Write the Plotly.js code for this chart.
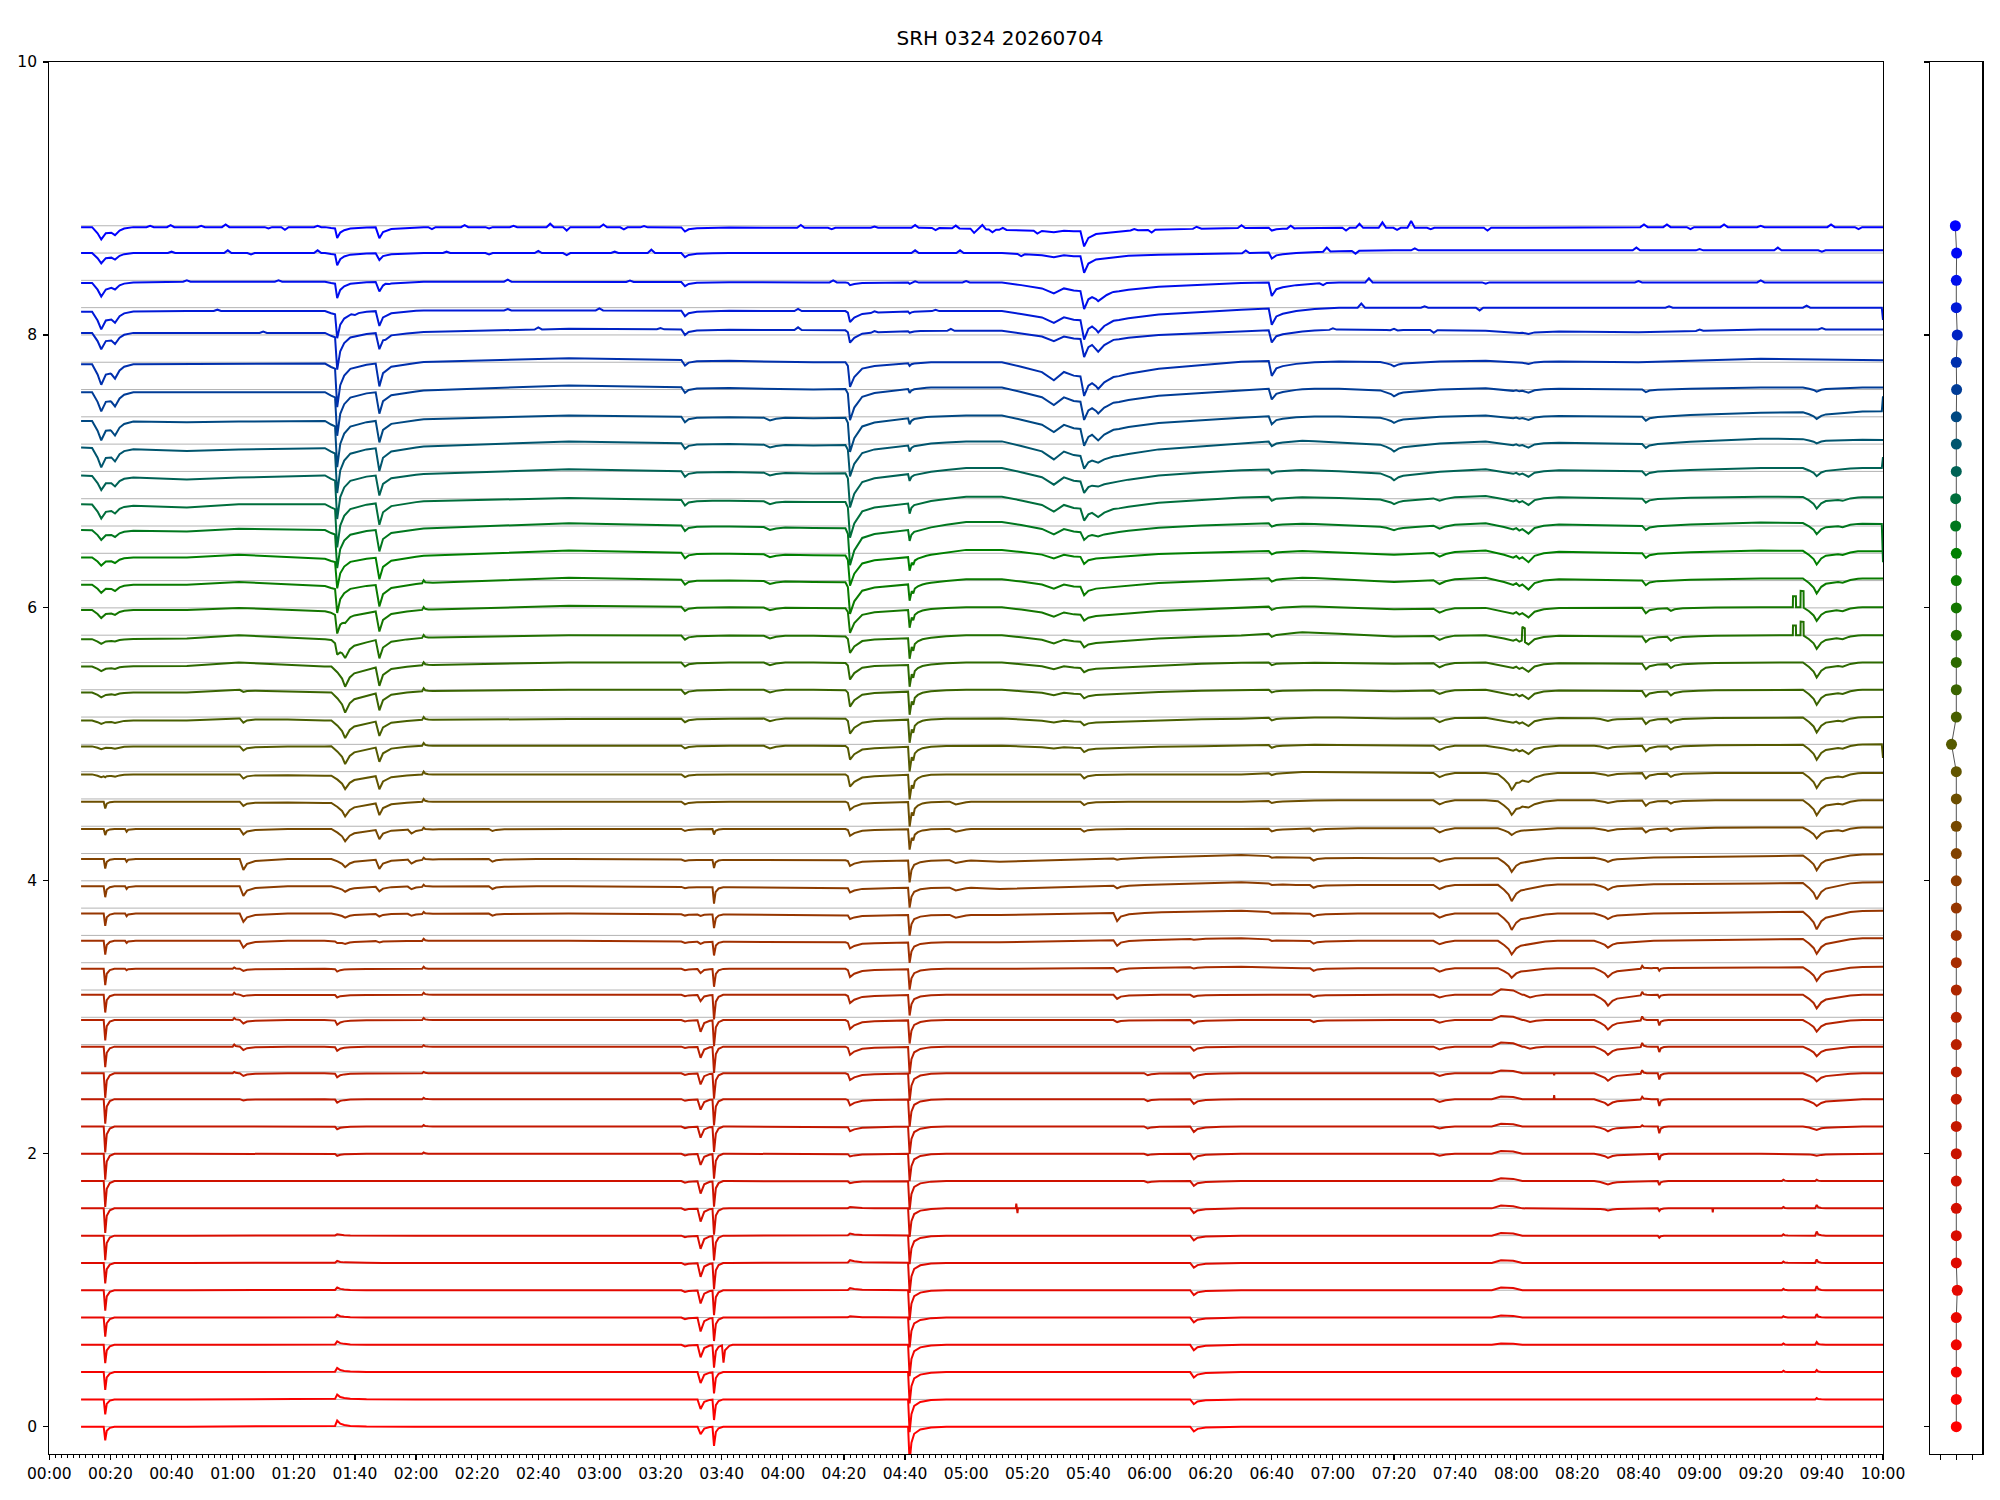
<!DOCTYPE html>
<html><head><meta charset="utf-8">
<script src="https://cdn.plot.ly/plotly-3.0.1.min.js"></script>
<style>html,body{margin:0;padding:0;background:#fff}</style>
</head><body>
<div id="chart" style="width:2000px;height:1500px"></div>
<script>
// ---------------- DATA ----------------
const LEVELS = [0.0,0.2,0.4,0.6,0.8,1.0,1.2,1.4,1.6,1.8,2.0,2.2,2.4,2.6,2.8,3.0,3.2,3.4,3.6,3.8,4.0,4.2,4.4,4.6,4.8,5.0,5.2,5.4,5.6,5.8,6.0,6.2,6.4,6.6,6.8,7.0,7.2,7.4,7.6,7.8,8.0,8.2,8.4,8.6,8.8];
const T_START = 10.4, T_END = 600;   // minutes after 00:00
const TICK_MINUTES = [0,20,40,60,80,100,120,140,160,180,200,220,240,260,280,300,320,340,360,380,400,420,440,460,480,500,520,540,560,580,600];
const TICK_LABELS = ['00:00','00:20','00:40','01:00','01:20','01:40','02:00','02:20','02:40','03:00','03:20','03:40','04:00','04:20','04:40','05:00','05:20','05:40','06:00','06:20','06:40','07:00','07:20','07:40','08:00','08:20','08:40','09:00','09:20','09:40','10:00'];
const Y_TICKS = [0,2,4,6,8,10];

// slow baseline drift of each trace (hundredths of a unit) at these times
const DRIFT_T = [10,45,62,90,120,170,250,285,300,311,390,410,440,470,520,560,600];
const DRIFT = [
 [0,0,0,0,0,0,0,0,0,0,0,0,0,0,0,0,0],
 [0,0,0,0,0,0,0,0,0,0,0,0,0,0,0,0,0],
 [0,0,0,0,0,0,0,0,0,0,0,0,0,0,0,0,0],
 [0,0,0,0,0,0,0,0,0,0,0,0,0,0,0,0,0],
 [0,0,0,0,0,0,0,0,0,0,0,0,0,0,0,0,0],
 [0,0,0,0,0,0,0,0,0,0,0,0,0,0,0,0,0],
 [0,0,0,0,0,0,0,0,0,0,0,0,0,0,0,0,0],
 [0,0,0,0,0,0,0,0,0,0,0,0,0,0,0,0,0],
 [0,0,0,0,0,0,0,0,0,0,0,0,0,0,0,0,0],
 [0,0,0,0,0,0,0,0,0,0,0,0,0,0,0,0,0],
 [0,0,0,0,0,0,0,0,0,0,0,0,0,0,0,0,0],
 [0,0,0,0,0,0,0,0,0,0,0,0,0,0,0,0,0],
 [0,0,0,0,0,0,0,0,0,0,0,0,0,0,0,0,0],
 [-1,-1,-1,-1,-1,-1,-1,-1,-1,-1,-1,-1,-1,-1,-1,-1,-1],
 [-1.5,-1.5,-1.5,-1.5,-1.5,-1.5,-1.5,-1.5,-1.5,-1.5,-1.5,-1.5,-1.5,-1.5,-1.5,-1.5,-1.5],
 [-2,-2,-2,-2,-2,-2,-2,-2,-2,-2,-2,-2,-2,-2,-2,-2,-2],
 [-3.5,-3.5,-3.5,-3.5,-3.5,-3.5,-3.5,-3.5,-3.5,-3.5,-3.5,-3.5,-3.5,-3.5,-3.5,-3.5,-3.5],
 [-4.5,-4.5,-4.5,-4.5,-4.5,-4.5,-4.5,-4.5,-4.5,-4.5,-3,-4,-4,-4,-4,-3.5,-3],
 [-4,-4,-4,-4,-4,-4,-5,-5,-5,-5,-2,-4,-4,-4,-4,-3,-2],
 [-4,-4,-4,-4,-4,-4,-5,-5,-5,-5,-2,-4,-4,-4,-4,-3,-2],
 [-4,-4,-4,-4,-4,-4,-5,-5,-5,-6,-1,-3,-3,-3,-2.5,-2,-1],
 [-4,-4,-4,-4,-4,-4,-5,-5,-5,-6,-1,-3,-3.5,-3.5,-3,-2,-0.5],
 [-2,-2,-2,-2,-2,-2,-2,-2,-2,-2,-2,-1.5,-1.5,-1.5,-1.5,-1,-1],
 [-2,-2,-2,-3,-2,-2,-2,-2,-2,-2,-2,-1,-1,-1,-1,-1,-1],
 [-2,-2,-2,-3,-2,-2,-2,-2,-2,-2,-2,0,-1,-1,-1,-1,-1],
 [-1.5,-1.5,-1.5,-1.5,-1,-1,-1,-1.5,-1,-1,-1,0,-1,-1,-1,-0.5,0],
 [-2.5,-2.5,-1,-2.5,-2,-1.5,-1,-1.5,-1,-1,-1,0,-1,-0.5,-1,-0.5,0],
 [-2,-2,0,-2,-1,0,0,-1,0,0,0,0,-1,0,-1,0,0],
 [-3,-2.5,0,-3,-2,0,0,-1.5,0,0,0,0,-1,0,-1,0,0],
 [-3,-2.5,0,-3,-2,0,-0.5,-2,0,0,0,2.5,-1,0,-1,0,0],
 [-1.5,-1.5,0,-2.5,-1.5,1.5,0,-1,0.5,0.5,0.5,1.5,-1,0,0,0.5,0.5],
 [-3,-3,-1,-4,-2,2,-1,-2,1,1,1,2.5,-1,2,0,1.5,1.5],
 [-3,-3,-1,-4,-2,2,-1.5,-2,2.5,2.5,1.5,2,-1,2,0,2,1.5],
 [-3,-4,-2,-3,-2,2,-1.5,-2,3,3,2,2,-1,2,0,2.5,1.5],
 [-4,-6.5,-4,-4,-2,0.5,-2.5,-2.5,1.5,1.5,1.5,1.5,-1,2,0,1.5,1],
 [-3,-6,-4.5,-3,-2,1.5,-1.5,-1,2.5,2.5,1.5,1.5,-2,1.5,0,2.5,2.5],
 [-2.5,-5,-4,-3,-2,2,-1,0,2,2,1,3,-1,2,0,4,3],
 [-3,-4,-3.5,-3,-2,1,-1,0,1,1,0,1,-1,1,0,3,4],
 [-2,-2,-2,-2,-1,3,0,1.5,1.5,1.5,0,1.5,-1,1,0,1.5,1.5],
 [-1.5,-1.5,-1,-1,0,3,0,0,0,0,1,1,0,1,0,2.5,1.5],
 [1.5,1.5,1.5,1.5,2,4.5,3.5,3,3,3,3,4,4,3,2,4,4],
 [-3,-2.5,-2.5,-2.5,-2,-2,-2.5,-2.5,-2.5,-2.5,-1,0,0,0,0,0,0],
 [-2,-1,-1,-1,-1,-1,-1.5,-1.5,-1.5,-1.5,-1.5,-1.5,-1.5,-1.5,-1.5,-1.5,-1.5],
 [0,0,0,0,0,0,0,0,0,0,0,1,2,2,2,2,2],
 [-1,-1,-1,-1,-1,-1,-1.5,-1.5,-2,-3,-1.5,-1.5,-1.5,-1.5,-1,-1,-1]
];

// dips (positive = downward) in hundredths: [minute, shape, first level index, depths for consecutive levels]
const EVENTS = [
 [17,'broad',24,[2,2,2.5,3.5,3.5,3.5,6,6,6,7,10,10,14,14,14,15,12,13,10,7.5,9]],
 [21.5,'broad',24,[1.5,1.5,1.5,1.5,1.5,1.5,3,4,3.5,4,5,6,8,9,9,9,7,7,4,4,5]],
 [18.3,'spike',0,[10,11,13,13.5,14,15,15,18,18,19,19,19,18,18,15,15,13,12,10,9,8,7,4.5,5,1]],
 [25.3,'spike',17,[1,1.5,2,2,2,2]],
 [60.5,'spike',13,[-1,-1.5,-1.5,-1.5,-1]],
 [63.5,'sharp',12,[1,2,2.5,2.5,1,1.5,5,6,7,8,4,3,3,3,3,1.5]],
 [94.2,'deep',0,[-4.5,-3.5,-3,-2.5,-2,-2,-1.5,-1,0,0,1.5,2,2.5,3,3,3.5,2,2,1,0,0,0,0,0,0,0,0,0,0,8,15,20,22,28,32,32,33,34,32,32,27,20,12,9,8]],
 [96.8,'vdip',18,[2,3,4,6,9,10,10,13,13,15,15,12,5]],
 [108,'sharp',18,[1,2,3.5,7,7,9,10,11,11,13,14,14,15,16,16,16,16,15,17,16,16,17,12,11,7,5,8]],
 [118.5,'sharp',19,[1.5,2,3,3]],
 [122.5,'spike',10,[-1,-1,-1,-1,-1,-1.5,-1.5,-1.5,-1.5,-1.5,-1.5,-1.5,-1.5,-2,-2,-2,-2,-2,-2,-2,-2,-2]],
 [145,'sharp',19,[1.5,2,2,1.5]],
 [208,'sharp',3,[1.2,1.2,1.2,1.2,1.2,1.2,1.2,1.2,1.2,1.2,1.2,1,1,1,1,1,1,1,1,1.5,2,2,2,2.5,3,3,3,3,3.5,4,4,4,4,4,4,4,4,4,4,3,3,3]],
 [213.1,'vnarrow',0,[5.5,7,8,9,10,9.5,10,9.5,9.5,9,8,8,7.5,8,8,8.5,4.5,3,1.5,1]],
 [217.5,'spike',0,[14,15,15.5,16.5,17,18,19,18,19,18.5,18,18.5,19,18.5,19,19,18,13,10,10,12,6,4]],
 [220.6,'spike',3,[13]],
 [235.8,'vsmall',25,[2,2,2,2,2,2,2,2,2,2,2,2,2]],
 [262,'deep2',3,[-0.5,-1,-1.5,-2,-1.5,-1,1.5,2,3.5,4.5,5,6,6.5,6,6,4.5,3,3.5,4,5,6,9,10,11,12,12,12,18,23,22,27,26,25,23,25,23,18,9,8,2]],
 [281.5,'spike3',0,[26,24,23,23,22,22,22,21,21,21,20,20,20,20,20,17,15,15,15,15,14.5,16,15,18,18,18,17,17,16,15,13,12,10,8,7.5,5,4.5,4.5,3,2,1,1.5,1]],
 [282.7,'spike',22,[4,5,5,5,5,5,5,5,4,3.5,3]],
 [296.6,'vsmall',19,[2,2,2,2,2]],
 [316.4,'tick',8,[-3.5]],
 [316.8,'tick',8,[3.5]],
 [328.7,'vee',25,[2,3,4,5,6,7,7,6,9,11,12,13,12,12.5,13.5,7.5,9,8,3,2]],
 [338.6,'sharp',22,[2,2.5,3,3,2.5,3,3,4,4,6,5,5.5,8.5,8,9,12,13,14,13,14,13,12,11]],
 [343.2,'vsmall',33,[2,4.5,2,3,6,6,6.5,7,6.5,5]],
 [349.4,'sharp',15,[1.5,3,3,4,6,2,1]],
 [359.4,'sharp',9,[1,1,1.5,1.5,1.5]],
 [374.5,'sharp',0,[3.5,3.5,4,4,3.5,3.5,3.5,3.5,3.5,3.5,4,4,3.5,3.5,3,2.5,1.5,1,0.5]],
 [400,'sharp2',18,[1,1,1,1,2,1.5,1.5,2,2,2,2,2.5,2.5,2.5,2.5,2.5,3,3,3.5,6,8,11,9,12,10,4.5,2]],
 [413.7,'sharp',15,[1.5,1.5,2,2,2,2,2,2]],
 [440,'vdip',33,[2,3,4.5,4.5,3.5,4,3,1]],
 [454.9,'vsmall',10,[1.5,1.5,2,2,2,2,2,2.5,2.5,3,3,2.5,3,3,3,3,3,2.5,3,3,3,3,3,2.5,2]],
 [477,'bump',3,[-1,-1.5,-2,-2,-2,-2,-2,-2,-2,-2,-2,-3,-3,-4]],
 [478.5,'vdip',17,[7,10,12,12,10,5,9,10]],
 [484,'jag',23,[3,4,6,6,6.5,6.5,6.5,7,8,8,7,6,5,4,3,3,2,2]],
 [484.5,'vsmall',14,[1.5,1.5,2]],
 [481.8,'pulse',29,[-10]],
 [492.4,'tick',12,[-3,1.5]],
 [510,'vdip',8,[1.5,2.5,3,3.5,4.5,5.5,6,7,8,6.5,5,4,4,3,2,2,2,2,2]],
 [521.2,'spike',11,[-1,-2,-2.5,-3,-3,-2.5,-2]],
 [522.4,'sharp',22,[3,4,4,4,4,4,4,4,4,3.5,3.5,3,3,3,3,3,2]],
 [526.8,'spike',7,[1.5,2,3,4.5,5,5,4.5,4,4,2,2]],
 [530.6,'sharp',22,[2,2,2.5,2.5,3,3,3,3,2]],
 [544.3,'tick',8,[3]],
 [567.4,'spike',2,[-1,-1,-1,-1,-1,-1,-1,-1]],
 [570.5,'pulse',29,[-7,-8]],
 [573.0,'pulse',29,[-10,-12]],
 [578.3,'vdip',10,[1.5,2.5,5,6,7,8.5,10,10,11,13,12,11,8,11,11,11,11,11,11,10,10,11,10,8,8.5,6,3,5,3]],
 [578.3,'spike',0,[-0.5,-1,-1.5,-2,-2.5,-3,-2.5,-3,-2.5,-1]],
 [586.8,'vsmall',22,[1.5,1.5,1.5,1.5,1.5,1.5,1.5,1.5,1.5,1.5,1.5,1.5,1.5]]
];
// small wiggles of the noisy top traces: [level index, minute, height in hundredths (positive = up)]
const WIGGLES = [
 [44,33,1],[44,39.7,1.5],[44,49.7,1],[44,57.7,2],[44,71.7,-1],[44,77.1,-2],[44,87.8,1],[44,125.2,-1.5],[44,135.9,1.5],[44,143.9,-1],[44,151.9,1],[44,163.9,2.5],[44,169.3,-2.5],[44,181.3,2],[44,188,-1.5],[44,194.6,1],
 [44,245.9,2],[44,256,-1],[44,270,1],[44,283.3,2],[44,290,-1.5],[44,296.6,2],[44,302.6,-3],[44,305.3,3],[44,308.6,-2],[44,312,1.5],[44,323.3,-2],[44,355,1],[44,360.7,-2],[44,375.4,1.5],[44,390.1,2],[44,406.2,2],
 [44,424.3,-2],[44,428.7,3],[44,436.2,4],[44,441,-1.5],[44,445.6,5],[44,452,-1],[44,470.6,-2],[44,521.8,2],[44,529.3,2],[44,537,-1.5],[44,548,2],[44,560,1],[44,583,2],[44,592,-1.5],
 [43,40,1],[43,58.4,2],[43,66,-1],[43,87.8,2],[43,130,1],[43,143.9,-1],[43,160,1.5],[43,169.3,-1.5],[43,185,1],[43,197,2.5],[43,283.3,2],[43,298,2],[43,318,-1.5],[43,391.5,2],[43,418,3],[43,427.4,-2],[43,446.8,1.5],[43,519.3,2],[43,540,1],[43,565.6,2],[43,580,-1],
 [42,45,1],[42,75,1],[42,110,1],[42,150,1.5],[42,190,1],[42,256.5,1.5],[42,283.3,1],[42,300,1],[42,416.8,-1.5],[42,431.8,3],[42,470,-1],[42,520,1],[42,560,1.5],
 [41,55,1],[41,100,-1],[41,150,1],[41,180,1.5],[41,245,1.5],[41,270,1],[41,290,1],[41,429.3,3],[41,450,1],[41,468,-2],[41,530,1],[41,575,1.5],
 [40,70,1],[40,110,-1],[40,160,1.5],[40,200,1],[40,245,2],[40,270,1],[40,295,1.5],[40,420,1],[40,440,1.5],[40,453,-2],[40,540,1],[40,580,1]
];
// jump of the very last sample (hundredths, positive = up)
const END_JUMP = [0,0,0,0,0,0,0,0,0,0,0,0,0,0,0,0,0,0,0,0,0,0,0,0,0,-10,0,0,0,0,0,0,0,-28,0,8,0,11,0,0,0,-9,0,0,0];
// right panel: horizontal position of each dot
const DOT_X = [0,0,0,0,0,0.06,0,0,0,0,0,0,0,0,0,0,0,0,0,0,0,0,0,0,0,-0.3,0,0,0,0,0,0,0,-0.04,-0.04,0,0,0,0.02,0,0.06,0,0,0.02,-0.06];

// ---------------- STYLE ----------------
const SHAPES = {
 broad:[[-3,0],[-1.2,0.5],[0,1],[1.5,0.5],[3,0.2],[6,0]],
 spike:[[-0.5,0],[0,1],[0.5,0.3],[1.5,0.08],[3,0]],
 vnarrow:[[-1,0],[0,1],[1.2,0.25],[3,0.05],[5,0]],
 sharp:[[-1.2,0],[0,1],[1.2,0.45],[3.9,0.18],[9,0.07],[14.5,0]],
 sharp2:[[-1,0],[0,1],[1.5,0.5],[3.6,0.35],[8,0.2],[14,0.08],[22,0]],
 deep:[[-4,0],[-2,0.08],[-0.7,0.12],[0,1],[1,0.5],[2.3,0.28],[4.3,0.13],[9.6,0.04],[15,0]],
 vdip:[[-4.5,0],[-2.5,0.3],[-1,0.6],[0,1],[1.5,0.55],[3,0.35],[7,0.2],[11,0.05],[15,0]],
 deep2:[[-1.5,0],[-0.7,0.15],[0,1],[1.4,0.6],[4,0.26],[8,0.15],[14.6,0.08],[19,0.04],[25,0]],
 spike3:[[-0.5,0],[0,1],[0.6,0.45],[1.5,0.2],[3.5,0.08],[7,0.02],[12,0]],
 vee:[[-17,0],[-10.7,0.25],[-3.9,0.55],[0,1],[3.3,0.55],[6.5,0.75],[11.3,0.85],[17.3,0.8],[21.3,0.75],[34.3,0.4],[48.3,0.2],[61.3,0.05],[71.3,0]],
 vsmall:[[-2,0],[0,1],[2,0.4],[5,0]],
 jag:[[-14,0],[-8,0.35],[-5,0.6],[-4,0.45],[-3,0.7],[-2,0.55],[0,1],[2,0.4],[5,0.15],[10,0]],
 bump:[[-5,0],[-2,1],[2,0.8],[5,0]],
 tick:[[-0.15,0],[0,1],[0.15,0]],
 pulse:[[0,0],[0.05,1],[1.0,1],[1.05,0]],
 wig:[[-1.2,0],[0,1],[1.2,0]],
 end:[[-0.4,0],[0,1]]
};
const COLOR_STOPS = [
 [0.0,[255,0,0]],[1.0,[228,8,0]],[2.0,[200,20,0]],[3.0,[180,35,0]],[3.6,[160,48,0]],
 [4.0,[140,60,0]],[4.4,[118,72,0]],[4.8,[98,85,0]],[5.2,[72,95,0]],[5.6,[45,105,0]],
 [6.0,[20,118,0]],[6.4,[0,128,0]],[6.8,[0,110,60]],[7.2,[0,85,110]],[7.6,[0,60,150]],
 [8.0,[0,35,195]],[8.4,[0,15,235]],[8.8,[0,0,255]]
];

function tplAt(tpl, dt){
  if (dt < tpl[0][0] || dt > tpl[tpl.length-1][0]) return 0;
  for (let i=1;i<tpl.length;i++){
    if (dt <= tpl[i][0]){
      const [x0,y0]=tpl[i-1],[x1,y1]=tpl[i];
      return x1===x0 ? y1 : y0+(y1-y0)*(dt-x0)/(x1-x0);
    }
  }
  return 0;
}
function driftAt(k, t){
  const T=DRIFT_T, V=DRIFT[k];
  if (t<=T[0]) return V[0];
  for (let i=1;i<T.length;i++){
    if (t<=T[i]) return V[i-1]+(V[i]-V[i-1])*(t-T[i-1])/(T[i]-T[i-1]);
  }
  return V[V.length-1];
}
function colorFor(level){
  const s=COLOR_STOPS;
  for (let i=1;i<s.length;i++){
    if (level<=s[i][0]+1e-9){
      const f=(level-s[i-1][0])/(s[i][0]-s[i-1][0]);
      const c=s[i-1][1].map((v,j)=>Math.round(v+(s[i][1][j]-v)*f));
      return 'rgb('+c.join(',')+')';
    }
  }
  return 'rgb(0,0,255)';
}
function buildTrace(k){
  const pts=new Set();
  const add=t=>{ if(t>=T_START-1e-9 && t<=T_END+1e-9) pts.add(Math.round(Math.min(Math.max(t,T_START),T_END)*10000)/10000); };
  add(T_START); add(T_END); DRIFT_T.forEach(add);
  const evs=[];
  EVENTS.forEach(([t0,shape,k0,d])=>{
    const i=k-k0;
    if(i>=0 && i<d.length && d[i]!==0){ evs.push([t0,SHAPES[shape],d[i]]); SHAPES[shape].forEach(([o])=>add(t0+o)); }
  });
  WIGGLES.forEach(([kk,t0,h])=>{
    if(kk===k){ evs.push([t0,SHAPES.wig,-h]); SHAPES.wig.forEach(([o])=>add(t0+o)); }
  });
  if(END_JUMP[k]!==0){ evs.push([T_END,SHAPES.end,-END_JUMP[k]]); SHAPES.end.forEach(([o])=>add(T_END+o)); }
  const xs=Array.from(pts).sort((a,b)=>a-b);
  const ys=xs.map(t=>{
    let v=driftAt(k,t);
    evs.forEach(([t0,tpl,d])=>{ v-=d*tplAt(tpl,t-t0); });
    return LEVELS[k]+v/100;
  });
  return {xs,ys};
}

const data=[];
// reference grey lines
const gx=[], gy=[];
LEVELS.forEach(L=>{ gx.push(T_START,T_END,null); gy.push(L,L,null); });
data.push({type:'scatter',mode:'lines',x:gx,y:gy,line:{color:'#b4b4b4',width:1},hoverinfo:'skip',xaxis:'x',yaxis:'y'});
LEVELS.forEach((L,k)=>{
  const tr=buildTrace(k);
  data.push({type:'scatter',mode:'lines',x:tr.xs,y:tr.ys,line:{color:colorFor(L),width:2},hoverinfo:'skip',xaxis:'x',yaxis:'y'});
});
// right panel
data.push({type:'scatter',mode:'lines',x:DOT_X,y:LEVELS,line:{color:'rgba(40,40,40,0.8)',width:1},xaxis:'x2',yaxis:'y2',hoverinfo:'skip'});
data.push({type:'scatter',mode:'markers',x:DOT_X,y:LEVELS,marker:{size:11,color:LEVELS.map(colorFor),line:{width:0}},xaxis:'x2',yaxis:'y2',hoverinfo:'skip'});

const ydom=[1-1454/1500, 1-62/1500];
const axCommon={showline:true,mirror:true,linecolor:'#000',linewidth:1.2,showgrid:false,zeroline:false,ticks:'outside',tickcolor:'#000',tickwidth:1.2,ticklen:5,fixedrange:true};
const layout={
  width:2000,height:1500,margin:{l:0,r:0,t:0,b:0},paper_bgcolor:'#fff',plot_bgcolor:'#fff',showlegend:false,
  font:{family:'DejaVu Sans, sans-serif',size:15.5,color:'#000'},
  title:{text:'SRH 0324 20260704',x:0.5,xanchor:'center',y:1-38/1500,yanchor:'middle',font:{family:'DejaVu Sans, sans-serif',size:20,color:'#000'}},
  xaxis:Object.assign({},axCommon,{domain:[49.3/2000,1883/2000],range:[0,600],tickmode:'array',tickvals:TICK_MINUTES,ticktext:TICK_LABELS,anchor:'y',
    minor:{ticks:'outside',ticklen:3,tickwidth:1,tickcolor:'#000',tick0:0,dtick:2,showgrid:false}}),
  yaxis:Object.assign({},axCommon,{domain:ydom,range:[-0.2,10],tickmode:'array',tickvals:Y_TICKS,anchor:'x',ticklabelstandoff:3}),
  xaxis2:Object.assign({},axCommon,{domain:[1930.3/2000,1982.3/2000],range:[-1.63,1.63],tickmode:'array',tickvals:[-1,0,1],showticklabels:false,anchor:'y2'}),
  yaxis2:Object.assign({},axCommon,{domain:ydom,range:[-0.2,10],tickmode:'array',tickvals:Y_TICKS,showticklabels:false,anchor:'x2'})
};
Plotly.newPlot('chart',data,layout,{displayModeBar:false,staticPlot:true});
</script>
</body></html>
